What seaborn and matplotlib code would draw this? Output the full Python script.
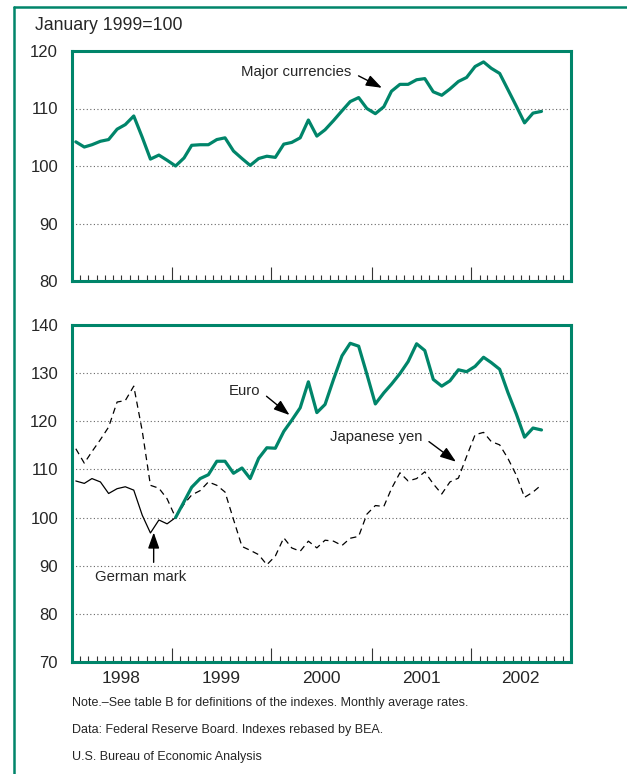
import pandas as pd
import matplotlib
matplotlib.use('Agg')
import matplotlib.pyplot as plt
import matplotlib.dates as mdates
from matplotlib.lines import Line2D
from matplotlib.ticker import NullFormatter
import seaborn as sns

# index values, January 1999=100, monthly averages
major_currencies = [104.2, 103.3, 103.7, 104.3, 104.6, 106.4, 107.2, 108.7, 105.0, 101.2, 101.9, 101.0,
                    100.0, 101.4, 103.6, 103.7, 103.7, 104.6, 104.9, 102.6, 101.3, 100.1, 101.3, 101.7,
                    101.5, 103.8, 104.1, 104.9, 108.0, 105.2, 106.3, 107.9, 109.6, 111.2, 111.9, 110.0,
                    109.1, 110.3, 113.0, 114.2, 114.2, 115.0, 115.2, 112.9, 112.3, 113.4, 114.7, 115.4,
                    117.3, 118.1, 117.0, 116.1, 113.3, 110.4, 107.5, 109.2, 109.5]

euro = [100.0, 103.3, 106.3, 108.1, 108.9, 111.7, 111.7, 109.2, 110.3, 108.1, 112.3, 114.5,
        114.4, 117.9, 120.2, 122.8, 128.2, 121.8, 123.5, 128.7, 133.6, 136.2, 135.6, 129.8,
        123.6, 125.9, 127.7, 129.9, 132.4, 136.1, 134.7, 128.7, 127.3, 128.4, 130.7, 130.3,
        131.4, 133.3, 132.2, 130.8, 126.0, 121.5, 116.7, 118.6, 118.2]

german_mark = [107.6, 107.1, 108.1, 107.4, 105.0, 106.0, 106.4, 105.7, 100.5, 96.8, 99.5, 98.7, 100.0]

japanese_yen = [114.3, 111.3, 113.7, 116.2, 118.8, 124.0, 124.3, 127.3, 118.0, 106.7, 106.1, 103.9,
                100.0, 102.8, 104.7, 105.6, 107.4, 106.7, 105.3, 99.6, 94.0, 93.2, 92.3, 90.2,
                92.0, 95.8, 93.7, 93.0, 95.1, 93.7, 95.3, 95.1, 94.2, 95.7, 96.1, 100.7,
                102.5, 102.3, 106.0, 109.3, 107.6, 108.1, 109.5, 107.0, 104.9, 107.4, 108.2, 112.7,
                117.2, 117.7, 115.8, 115.1, 112.3, 108.8, 104.2, 105.3, 106.8]

years = [1998, 1999, 2000, 2001, 2002]
notes = ['Note.\u2013See table B for definitions of the indexes. Monthly average rates.',
         'Data: Federal Reserve Board. Indexes rebased by BEA.',
         'U.S. Bureau of Economic Analysis']

# mid-month dates, Jan 1998 - Sep 2002
months = pd.date_range('1998-01-01', '2002-09-01', freq='MS') + pd.Timedelta(days=14)

top = pd.DataFrame({'month': months, 'value': major_currencies})
eur = pd.DataFrame({'month': months[12:], 'value': euro})
dem = pd.DataFrame({'month': months[:13], 'value': german_mark})
jpy = pd.DataFrame({'month': months, 'value': japanese_yen})

GREEN = '#00856a'

sns.set_style('white')
plt.rcParams['font.family'] = ['Liberation Sans', 'DejaVu Sans']

fig = plt.figure(figsize=(6.27, 7.74), dpi=100)
ax1 = fig.add_axes([72/627, 1 - 281/774, 499/627, 230/774])
ax2 = fig.add_axes([72/627, 1 - 662/774, 499/627, 337/774])

sns.lineplot(data=top, x='month', y='value', color=GREEN, lw=2.3, ax=ax1)

sns.lineplot(data=jpy, x='month', y='value', color='black', lw=0.9,
             linestyle=(0, (5, 3.5)), ax=ax2)
sns.lineplot(data=dem, x='month', y='value', color='black', lw=0.9, ax=ax2)
sns.lineplot(data=eur, x='month', y='value', color=GREEN, lw=2.3, ax=ax2)

for ax, (lo, hi) in ((ax1, (80, 120)), (ax2, (70, 140))):
    ax.set_xlim(pd.Timestamp('1998-01-01'), pd.Timestamp('2003-01-01'))
    ax.set_ylim(lo, hi)
    ax.set_yticks(range(lo, hi + 1, 10))
    ax.set_xlabel('')
    ax.set_ylabel('')
    ax.grid(axis='y', color='#666666', lw=0.8, ls=(0, (1, 2.2)))
    ax.set_axisbelow(True)
    ax.xaxis.set_major_locator(mdates.YearLocator())
    ax.xaxis.set_minor_locator(mdates.MonthLocator())
    ax.xaxis.set_major_formatter(NullFormatter())
    ax.tick_params(axis='x', which='both', bottom=True, direction='in', width=0.8, color='#333333')
    ax.tick_params(axis='x', which='major', length=10)
    ax.tick_params(axis='x', which='minor', length=4.5)
    ax.tick_params(axis='y', length=0, pad=10, labelsize=12)
    for s in ax.spines.values():
        s.set_color(GREEN)
        s.set_linewidth(2.2)

for y in years:
    ax2.text(mdates.date2num(pd.Timestamp(f'{y}-07-01')), -0.05, str(y),
             transform=ax2.get_xaxis_transform(), ha='center', va='center', fontsize=12.5)

arrow = dict(arrowstyle='-|>,head_length=0.9,head_width=0.32', color='black', lw=1,
             shrinkA=3, shrinkB=0, relpos=(1, 0.5))
ax1.annotate('Major currencies', xy=(pd.Timestamp('2001-02-08'), 113.6),
             xytext=(pd.Timestamp('2000-10-20'), 116.3), ha='right', va='center',
             fontsize=10.7, arrowprops=arrow)
ax2.annotate('Euro', xy=(pd.Timestamp('2000-03-07'), 121.3),
             xytext=(pd.Timestamp('1999-11-20'), 126.3), ha='right', va='center',
             fontsize=10.7, arrowprops=arrow)
ax2.annotate('Japanese yen', xy=(pd.Timestamp('2001-11-06'), 111.6),
             xytext=(pd.Timestamp('2001-07-06'), 116.8), ha='right', va='center',
             fontsize=10.7, arrowprops=arrow)
ax2.annotate('German mark', xy=(pd.Timestamp('1998-10-27'), 96.9),
             xytext=(pd.Timestamp('1998-09-10'), 87.7), ha='center', va='center',
             fontsize=10.7, arrowprops=dict(arrow, relpos=(0.64, 1)))

fig.text(35/627, 1 - 25/774, 'January 1999=100', fontsize=12.7, va='center')
for i, line in enumerate(notes):
    fig.text(72/627, 1 - (703 + 27*i)/774, line, fontsize=9, va='center')

fig.add_artist(Line2D([14/627, 14/627], [0, 1 - 7/774], color=GREEN, lw=1.8))
fig.add_artist(Line2D([14/627, 1], [1 - 7/774, 1 - 7/774], color=GREEN, lw=1.8))

fig.savefig('out.png', dpi=100, facecolor='white')
